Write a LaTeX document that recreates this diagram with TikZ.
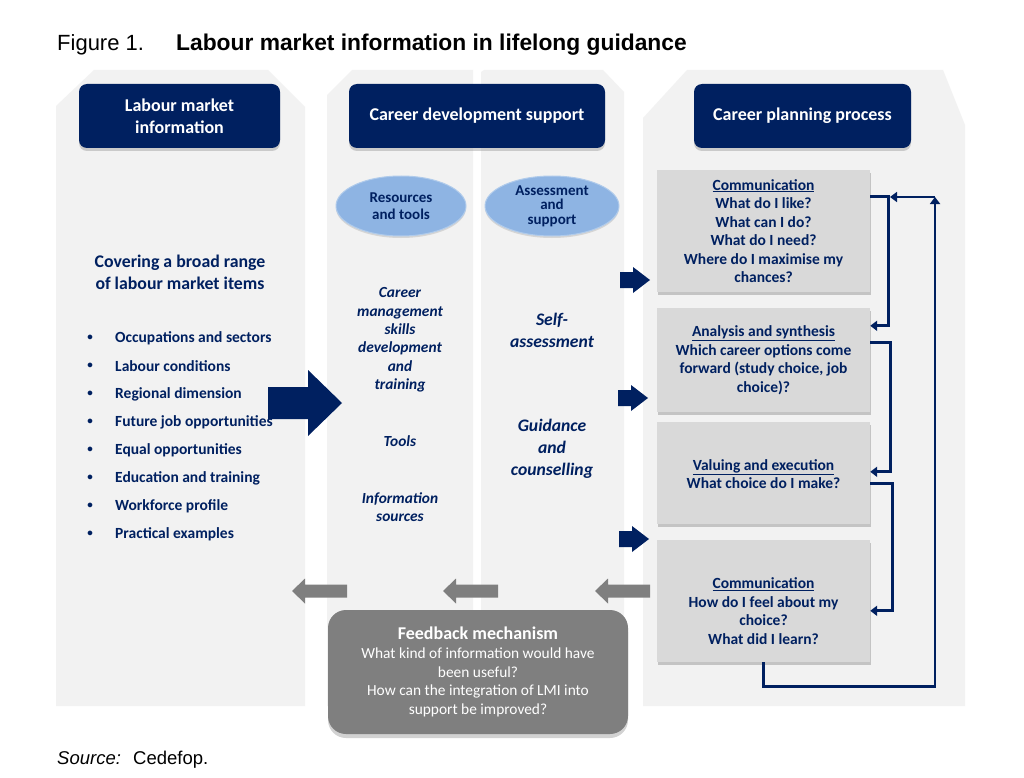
\documentclass[tikz,border=0pt]{standalone}
\usepackage{fontspec}
\setmainfont{Carlito}
\newfontfamily\arialfont{Liberation Sans}
\usetikzlibrary{arrows.meta,shapes.geometric,shadows}

\definecolor{navy}{RGB}{0,32,96}
\definecolor{colbg}{RGB}{242,242,242}
\definecolor{stepgray}{RGB}{217,217,217}
\definecolor{fbgray}{RGB}{127,127,127}
\definecolor{ovalblue}{RGB}{142,180,227}

\tikzset{
  hdr/.style={rounded corners=8pt, fill=navy, text=white, inner sep=0pt,
    minimum height=64pt, align=center, font=\bfseries\fontsize{18}{22}\selectfont,
    drop shadow={shadow xshift=0pt, shadow yshift=-3pt, opacity=.35}},
  oval/.style={ellipse, fill=ovalblue, draw=ovalblue!70!white, line width=1pt,
    minimum height=60pt, inner sep=0pt, align=center, text=navy,
    font=\bfseries\fontsize{15}{14.5}\selectfont,
    drop shadow={shadow xshift=0pt, shadow yshift=-2pt, opacity=.25}},
  stepbox/.style={fill=stepgray, minimum width=213pt, inner sep=0pt,
    drop shadow={shadow xshift=1pt, shadow yshift=-3pt, opacity=.4}},
  steptext/.style={align=center, text=navy, font=\bfseries\fontsize{15.5}{18.5}\selectfont},
  flow/.style={navy, line width=2.8pt, -{Triangle[length=7pt,width=10pt]}}
}

\begin{document}
\begin{tikzpicture}[x=1pt,y=-1pt]

  \useasboundingbox[fill=white] (0,0) rectangle (1024,778);

  \fill[colbg] (56,706) -- (56,106) -- (94,70) -- (268,70) -- (305,107) -- (305,706) -- cycle;
  \fill[colbg] (327,706) -- (327,95) -- (352,70) -- (473,70) -- (473,706) -- cycle;
  \fill[colbg] (481,706) -- (481,72) -- (484,70) -- (603,70) -- (624,92) -- (624,706) -- cycle;
  \fill[colbg] (643,706) -- (643,118) -- (687,70) -- (943,70) -- (965,125) -- (965,706) -- cycle;

  \node[anchor=base west, inner sep=0pt, font=\arialfont\fontsize{22}{26}\selectfont] (fig) at (57,51) {Figure 1.};
  \node[anchor=base west, inner sep=0pt, font=\arialfont\bfseries\fontsize{22.8}{26}\selectfont] (title) at (176,51)
    {Labour market information in lifelong guidance};

  \begin{scope}[every node/.style={hdr}]
    \node[minimum width=201pt] (h1) at (179.5,116) {Labour market\\information};
    \node[minimum width=256pt] (h2) at (477,116) {Career development support};
    \node[minimum width=217pt] (h3) at (802.5,116) {Career planning process};
  \end{scope}

  \node[oval, minimum width=130pt] (e1) at (401,206) {Resources\\[3pt]and tools};
  \node[oval, minimum width=134pt] (e2) at (552,206) {Assessment\\and\\support};

  \node[align=center, text=navy, font=\bfseries\fontsize{17.8}{22}\selectfont] (cover) at (180,272)
    {Covering a broad range\\of labour market items};

  \foreach \t [count=\i] in {Occupations and sectors, Labour conditions, Regional dimension,
      Future job opportunities, Equal opportunities, Education and training,
      Workforce profile, Practical examples}{
    \node[text=navy, font=\bfseries\fontsize{11}{14}\selectfont] (d\i) at (90,310+28*\i) {\textbullet};
    \node[anchor=west, inner sep=0pt, text=navy, font=\bfseries\fontsize{15.5}{16}\selectfont] (i\i)
      at (115,310+28*\i) {\t};
  }

  \fill[navy] (342,403) -- (308,370) -- (308,387) -- (268,387) -- (268,419) -- (308,419) -- (308,436) -- cycle;

  \begin{scope}[every node/.style={align=center, text=navy, font=\bfseries\itshape\fontsize{15.4}{18.4}\selectfont}]
    \node (cms) at (400,340) {Career\\management\\skills\\development\\and\\training};
    \node (tools) at (400,441) {Tools};
    \node (info) at (400,507) {Information\\sources};
  \end{scope}

  \begin{scope}[every node/.style={align=center, text=navy, font=\bfseries\itshape\fontsize{17.6}{22}\selectfont}]
    \node (self) at (552,330) {Self-\\assessment};
    \node (guid) at (552,449) {Guidance\\and\\counselling};
  \end{scope}

  \foreach \x/\y in {650/280,648/398,649/539}
    \fill[navy] (\x,\y) -- ++(-17,-13) -- ++(0,5) -- ++(-13,0) -- ++(0,16) -- ++(13,0) -- ++(0,5) -- cycle;

  \node[stepbox, minimum height=122pt] (b1) at (763.5,231) {};
  \node[stepbox, minimum height=104pt] (b2) at (763.5,360) {};
  \node[stepbox, minimum height=102pt] (b3) at (763.5,473) {};
  \node[stepbox, minimum height=122pt] (b4) at (763.5,601) {};

  \begin{scope}[every node/.style={steptext}]
    \node (t1) at (763.5,231) {\underline{Communication}\\What do I like?\\What can I do?\\What do I need?\\Where do I maximise my\\chances?};
    \node (t2) at (763.5,360) {\underline{Analysis and synthesis}\\Which career options come\\forward (study choice, job\\choice)?};
    \node (t3) at (763.5,474) {\underline{Valuing and execution}\\What choice do I make?};
    \node (t4) at (763.5,611) {\underline{Communication}\\How do I feel about my\\choice?\\What did I learn?};
  \end{scope}

  \coordinate (c1) at (935,197);
  \coordinate (c2) at (890,197);

  \draw[flow] ([yshift=-27pt]b1.north east) -- ++(18,0) |- ([yshift=-18pt]b2.north east);
  \draw[flow] ([yshift=-35pt]b2.north east) -- ++(20,0) |- ([yshift=-50pt]b3.north east);
  \draw[flow] ([yshift=-62pt]b3.north east) -- ++(22,0) |- ([yshift=-71pt]b4.north east);
  \draw[flow] (b4.south) -- ++(0,24) -| (c1);
  \draw[flow] (c1) -- (c2);

  \foreach \x in {292,443,595}
    \fill[fbgray] (\x,591) -- ++(13,-12.5) -- ++(0,6) -- ++(42,0) -- ++(0,13) -- ++(-42,0) -- ++(0,6) -- cycle;

  \node[rounded corners=18pt, fill=fbgray, text=white, minimum width=300pt, minimum height=124pt,
    align=center, inner sep=0pt, font=\fontsize{15.4}{18.6}\selectfont,
    drop shadow={shadow xshift=0pt, shadow yshift=-4pt, opacity=.35}] (fb) at (478,672)
    {{\bfseries\fontsize{18}{20}\selectfont Feedback mechanism}\\What kind of information would have\\been useful?\\How can the integration of LMI into\\support be improved?};

  \node[anchor=base west, inner sep=0pt, font=\arialfont\itshape\fontsize{18.5}{20}\selectfont] (src) at (57,764) {Source:};
  \node[anchor=base west, inner sep=0pt, font=\arialfont\fontsize{18.5}{20}\selectfont] (cdf) at (133,764) {Cedefop.};

\end{tikzpicture}
\end{document}
